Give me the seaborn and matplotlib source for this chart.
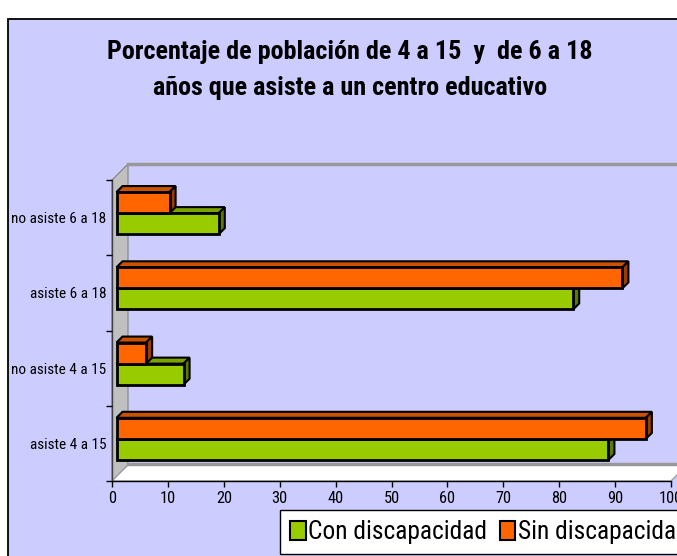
import matplotlib
matplotlib.use("Agg")
import matplotlib.pyplot as plt
import matplotlib.patches as mpatches
from matplotlib.transforms import IdentityTransform, ScaledTranslation
from matplotlib import font_manager
import matplotlib.colors as mcolors
import numpy as np
import pandas as pd
import seaborn as sns

# ---------------- data ----------------
categories = ["no asiste 6 a 18", "asiste 6 a 18", "no asiste 4 a 15", "asiste 4 a 15"]
con_discapacidad = [18.3, 81.7, 12.0, 88.0]
sin_discapacidad = [9.5, 90.5, 5.3, 94.7]
series_names = ["Con discapacidad", "Sin discapacidad"]
series_colors = ["#99CC00", "#FF6600"]
x_ticks = list(range(0, 101, 10))
title_lines = ["Porcentaje de población de 4 a 15  y  de 6 a 18",
               "años que asiste a un centro educativo"]

# ---------------- fonts: pick a narrow family that has a bold face ----------------
def _w(v):
    if isinstance(v, str):
        return font_manager.weight_dict.get(v, 400)
    return int(v)

faces = {}
for f in font_manager.fontManager.ttflist:
    faces.setdefault(f.name, set()).add((_w(f.weight), f.style))

candidates = ["Liberation Sans Narrow", "Arial Narrow", "Archivo Narrow", "Roboto Condensed",
              "PT Sans Narrow", "Open Sans Condensed", "Asap Condensed", "Barlow Condensed",
              "Sofia Sans Condensed"]
narrow = "Liberation Sans"
for n in candidates:
    fs_ = faces.get(n, set())
    if any(w >= 600 and s == "normal" for w, s in fs_) and any(w <= 450 and s == "normal" for w, s in fs_):
        narrow = n
        break
plt.rcParams["font.family"] = [narrow, "Liberation Sans", "DejaVu Sans"]

W, H, DPI = 677, 556, 100
fig = plt.figure(figsize=(W / DPI, H / DPI), dpi=DPI)
fig.patch.set_facecolor("white")
renderer = fig.canvas.get_renderer()


def fx(px):
    return px / W


def fy(py):
    return 1 - py / H


def fit_size(text, target_px, size=12, weight="normal"):
    t = fig.text(0, 0, text, fontsize=size, fontweight=weight)
    w = t.get_window_extent(renderer).width
    t.remove()
    return size * target_px / w


# chart area background (lavender with black border)
fig.add_artist(mpatches.Rectangle((fx(8), fy(H + 20)), 2, fy(19) - fy(H + 20),
                                  transform=fig.transFigure, facecolor="#CCCCFF",
                                  edgecolor="black", linewidth=1.3, zorder=0))

ax = fig.add_axes([fx(112), fy(481), fx(671) - fx(112), fy(180) - fy(481)])
ax.set_facecolor("none")

df = pd.DataFrame({
    "categoria": categories * 2,
    "valor": con_discapacidad + sin_discapacidad,
    "serie": [series_names[0]] * len(categories) + [series_names[1]] * len(categories),
})
palette = dict(zip(series_names, series_colors))
sns.barplot(data=df, x="valor", y="categoria", hue="serie", order=categories,
            hue_order=[series_names[1], series_names[0]], palette=palette,
            orient="h", width=0.56, saturation=1, edgecolor="black", linewidth=2,
            legend=False, errorbar=None, ax=ax)
ax.set_xlim(0, 100)
ax.set_ylim(len(categories) - 0.5, -0.5)

# ---------------- 3D look ----------------
DEPTH = 16      # px depth of the walls
BAR_POS = 4.5   # px depth offset of bar front faces
BAR_D = 6       # px depth of the bars
T = ax.transData
xL, yT = T.transform((0, -0.5))
xR, yB = T.transform((100, len(categories) - 0.5))
ident = IdentityTransform()

wall = mpatches.Polygon([(xL, yT), (xL, yB), (xL + DEPTH, yB + DEPTH), (xL + DEPTH, yT + DEPTH)],
                        closed=True, transform=ident, facecolor="#C0C0C0",
                        edgecolor="#808080", linewidth=0.8, zorder=0.5, clip_on=False)
ax.add_artist(wall)
back = mpatches.Rectangle((xL + DEPTH, yB + DEPTH), (xR - xL) + 40, (yT - yB),
                          transform=ident, facecolor="white", edgecolor="none",
                          zorder=0.4, clip_on=False)
ax.add_artist(back)
floor = mpatches.Polygon([(xL, yB), (xR, yB), (xR + DEPTH, yB + DEPTH), (xL + DEPTH, yB + DEPTH)],
                         closed=True, transform=ident, facecolor="white",
                         edgecolor="#A0A0A0", linewidth=1.0, zorder=0.6, clip_on=False)
ax.add_artist(floor)
ax.add_artist(plt.Line2D([xL + DEPTH, xR + DEPTH + 40], [yB + DEPTH + 1.5] * 2, transform=ident,
                         color="#999999", linewidth=2.5, zorder=0.7, clip_on=False))
ax.add_artist(plt.Line2D([xL + DEPTH, xR + DEPTH + 40], [yT + DEPTH] * 2, transform=ident,
                         color="#999999", linewidth=2.5, zorder=0.7, clip_on=False))

shift = ScaledTranslation(BAR_POS / DPI, BAR_POS / DPI, fig.dpi_scale_trans)
orange = mcolors.to_rgba(series_colors[1])
for bar in list(ax.patches):
    if not isinstance(bar, mpatches.Rectangle) or bar.get_width() == 0:
        continue
    fc = bar.get_facecolor()
    is_orange = np.allclose(fc, orange)
    z = 4 if is_orange else 3
    x0, y0 = bar.get_x(), bar.get_y()
    w, h = bar.get_width(), bar.get_height()
    (px0, py0), (px1, py1) = T.transform([(x0, y0), (x0 + w, y0 + h)])
    left, right = min(px0, px1) + BAR_POS, max(px0, px1) + BAR_POS
    bot, top = min(py0, py1) + BAR_POS, max(py0, py1) + BAR_POS
    dark1 = tuple(np.array(fc[:3]) * 0.8)
    dark2 = tuple(np.array(fc[:3]) * 0.6)
    topface = mpatches.Polygon([(left, top), (right, top), (right + BAR_D, top + BAR_D),
                                (left + BAR_D, top + BAR_D)], closed=True, transform=ident,
                               facecolor=dark1, edgecolor="black", linewidth=1.5,
                               zorder=z, clip_on=False)
    side = mpatches.Polygon([(right, bot), (right + BAR_D, bot + BAR_D),
                             (right + BAR_D, top + BAR_D), (right, top)], closed=True,
                            transform=ident, facecolor=dark2, edgecolor="black",
                            linewidth=1.5, zorder=z, clip_on=False)
    ax.add_artist(topface)
    ax.add_artist(side)
    bar.set_transform(T + shift)
    bar.set_zorder(z + 0.01)
    bar.set_clip_on(False)

# ---------------- axes styling ----------------
for s in ["top", "right"]:
    ax.spines[s].set_visible(False)
ax.spines["left"].set_color("#404040")
ax.spines["bottom"].set_color("black")
ax.spines["left"].set_linewidth(1)
ax.spines["bottom"].set_linewidth(1)
ax.spines["left"].set_zorder(0.8)
ax.spines["bottom"].set_zorder(0.8)

ylab_size = fit_size(categories[0], 95)
xlab_size = fit_size("20", 16)

ax.set_xticks(x_ticks)
ax.set_xticklabels([str(t) for t in x_ticks])
ax.tick_params(axis="x", length=4, width=1, direction="out", pad=3.5, labelsize=xlab_size,
               colors="black")
ax.set_yticks(range(len(categories)))
ax.set_yticklabels(categories)
ax.set_yticks(np.arange(-0.5, len(categories), 1), minor=True)
ax.tick_params(axis="y", which="major", length=0, pad=4, labelsize=ylab_size)
ax.tick_params(axis="y", which="minor", length=4, width=1, direction="out")
ax.set_xlabel("")
ax.set_ylabel("")
for lab in ax.get_xticklabels():
    lab.set_clip_on(False)

# ---------------- legend ----------------
leg_size = fit_size(series_names[0], 179)
handles = [mpatches.Rectangle((0, 0), 1, 1, facecolor=c, edgecolor="black", linewidth=1.5)
           for c in series_colors]
leg = fig.legend(handles, series_names, loc="upper left", bbox_to_anchor=(fx(280), fy(510)),
                 ncol=2, fontsize=leg_size, frameon=True, fancybox=False, edgecolor="black",
                 framealpha=1, borderaxespad=0, borderpad=0.4, handlelength=0.6,
                 handleheight=0.8, handletextpad=0.1, columnspacing=0.5)
leg.get_frame().set_linewidth(1)

# ---------------- title ----------------
t1 = fit_size(title_lines[0], 484, weight="bold")
t2 = fit_size(title_lines[1], 400, weight="bold")
tsize = (t1 + t2) / 2
fig.text(fx(350), fy(52), title_lines[0], ha="center", va="center", fontsize=tsize,
         fontweight="bold")
fig.text(fx(350), fy(88), title_lines[1], ha="center", va="center", fontsize=tsize,
         fontweight="bold")

fig.savefig("out.png", dpi=DPI)
